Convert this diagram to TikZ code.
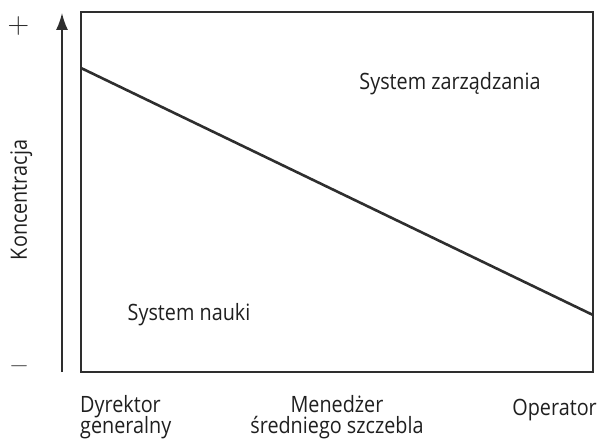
\documentclass[tikz,border=0pt]{standalone}
\usepackage{fontspec}
\setmainfont[FakeStretch=0.88]{Open Sans}
\newfontfamily\signfont{Latin Modern Roman}
\usetikzlibrary{arrows.meta}
\begin{document}
\begin{tikzpicture}[x=1pt,y=1pt,
    lbl/.style = {font=\fontsize{22.5}{20}\selectfont, text=black!88, inner sep=0pt},
    sign/.style = {font=\signfont\fontsize{30}{32}\selectfont, text=black!82, inner sep=0pt},
    heavy/.style = {line width=2.6pt, draw=black!82}]
    \useasboundingbox (0,0) rectangle (598,440);
    \draw[style = heavy] (81,428) -- (593,428) -- (593,68) -- (81,68) -- cycle;
    \coordinate (hi) at (81,372);
    \coordinate (lo) at (593,125);
    \draw[style = heavy] (hi) -- (lo);
    \coordinate (axbot) at (62,68);
    \coordinate (axtop) at (62,427);
    \draw[line width=1.6pt, black!82, -{Latex[length=17pt,width=12pt]}] (axbot) -- (axtop);
    \node[sign] (plus) at (18.5,414) {+};
    \node[sign, font=\signfont\fontsize{25}{30}\selectfont] (minus) at (19,71) {−};
    \node[lbl, rotate=90, anchor=base] (konc) at (27,240) {Koncentracja};
    \node[lbl, anchor=base] (zarz) at (450,350) {System zarządzania};
    \node[lbl, anchor=base] (nauki) at (189,120) {System nauki};
    \node[lbl, anchor=base west] (dyr) at (80,28) {Dyrektor};
    \node[lbl, anchor=base west] (dyr2) at (80,7) {generalny};
    \node[lbl, anchor=base] (men) at (337,28) {Menedżer};
    \node[lbl, anchor=base] (men2) at (337,7) {średniego szczebla};
    \node[lbl, anchor=base east] (oper) at (597,25) {Operator};
\end{tikzpicture}
\end{document}
